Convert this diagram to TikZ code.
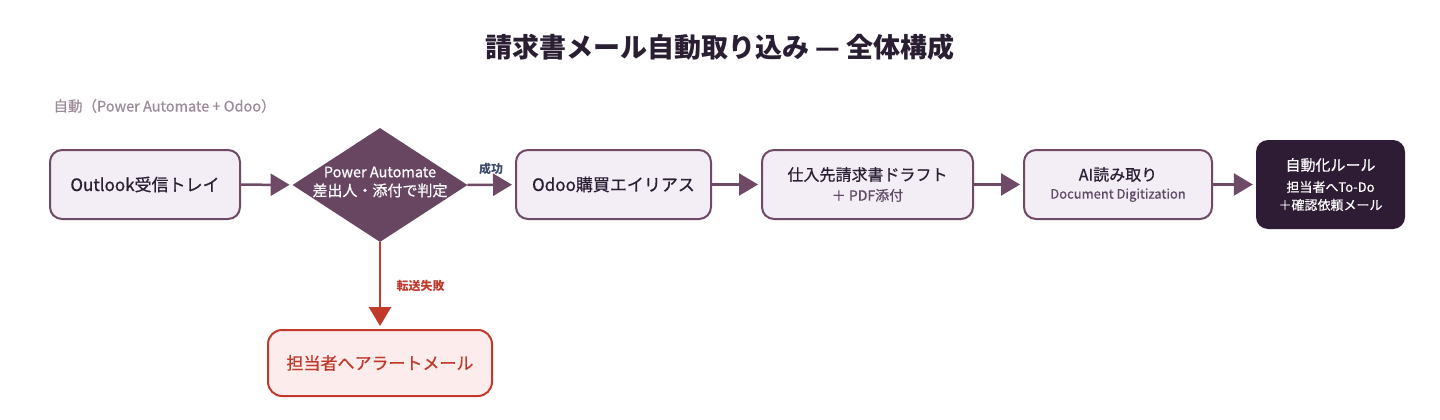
\documentclass[tikz,border=0pt]{standalone}
\usepackage{fontspec}
\setmainfont{Noto Sans CJK JP}
\newfontfamily\medfont{Noto Sans CJK JP}[FakeBold=0.6]
\usetikzlibrary{shapes.geometric,arrows.meta}
\definecolor{plum}{HTML}{6E4A67}
\definecolor{boxfill}{HTML}{F3EEF5}
\definecolor{ink}{HTML}{2A1E33}
\definecolor{darkbox}{HTML}{2D1C33}
\definecolor{alert}{HTML}{C0392B}
\definecolor{alertfill}{HTML}{FDECEC}
\definecolor{labelgray}{HTML}{9B8A98}
\definecolor{subtext}{HTML}{5E4A64}
\definecolor{okblue}{HTML}{3B4A6B}
\newcommand{\fs}[1]{\fontsize{#1}{#1}\selectfont}
\begin{document}
\begin{tikzpicture}[x=1pt,y=-1pt,
  stepbox/.style={draw=plum, line width=2pt, fill=boxfill, rounded corners=12pt,
    inner sep=0pt, align=center, text=ink},
  darkstep/.style={fill=darkbox, rounded corners=12pt, inner sep=0pt, align=center, text=white},
  alertbox/.style={draw=alert, line width=2pt, fill=alertfill, rounded corners=14pt,
    inner sep=0pt, align=center, text=alert},
  arr/.style={draw=plum, line width=2.5pt, -{Triangle[length=19pt,width=22pt]}, shorten >=3pt},
  alertarr/.style={draw=alert, line width=2.5pt, -{Triangle[length=19pt,width=22pt]}, shorten >=3pt},
]
\useasboundingbox (0,0) rectangle (1440,420);

\node[text=ink, font=\fs{27}\bfseries] (title) at (720,47) {請求書メール自動取り込み — 全体構成};
\node[text=labelgray, font=\fs{14.5}\medfont, anchor=west] (sec) at (50,106) {自動（Power Automate + Odoo）};

\node[stepbox, minimum width=190pt, minimum height=69pt, font=\fs{17}\medfont] (b1) at (145,184.5) {Outlook受信トレイ};

\node[diamond, fill=plum!95!black, minimum width=175pt, minimum height=114pt, inner sep=0pt] (dia) at (380,185) {};
\node[text=white, align=center, inner sep=0pt, font=\medfont] (diat) at (380,182) {{\fs{14.5}Power Automate}\\[5pt]{\fs{15}差出人・添付で判定}};

\node[stepbox, minimum width=195pt, minimum height=69pt, font=\fs{17}\medfont] (b3) at (613.5,184.5) {Odoo購買エイリアス};

\node[stepbox, minimum width=211pt, minimum height=69pt, font=\medfont] (b4) at (867.5,184.5) {{\fs{16}仕入先請求書ドラフト}\\[6pt]{\fs{14}\color{subtext}＋ PDF添付}};

\node[stepbox, minimum width=188pt, minimum height=69pt, font=\medfont] (b5) at (1118,184.5) {{\fs{16}AI読み取り}\\[6pt]{\fs{13}\color{subtext}Document Digitization}};

\node[darkstep, minimum width=149pt, minimum height=89pt, font=\medfont] (b6) at (1330.5,184.5) {{\fs{15}自動化ルール}\\[8pt]{\fs{13}担当者へTo-Do}\\[6pt]{\fs{13}＋確認依頼メール}};

\node[alertbox, minimum width=224pt, minimum height=66pt, font=\fs{17}\medfont] (b7) at (380,363) {担当者へアラートメール};

\draw[arr] (b1) -- (dia);
\draw[arr] (dia) -- (b3) node[midway, above=5pt, text=okblue, font=\fs{12}\bfseries] (ok) {成功};
\draw[arr] (b3) -- (b4);
\draw[arr] (b4) -- (b5);
\draw[arr] (b5) -- (b6);
\draw[alertarr] (dia.south) -- (b7.north) node[pos=0.5, right=12pt, text=alert, font=\fs{12}\bfseries] (ng) {転送失敗};
\end{tikzpicture}
\end{document}
